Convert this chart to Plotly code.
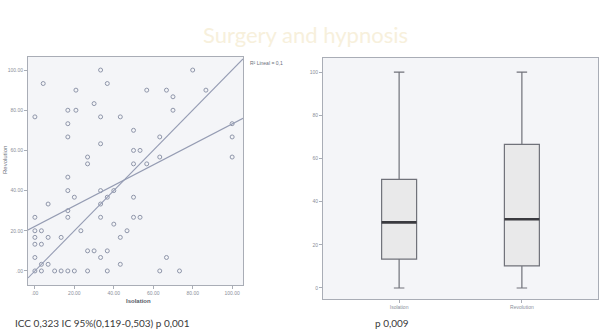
import plotly.graph_objects as go

# ---------------- data ----------------
title_text = "Surgery and hypnosis"

scatter_x = [33.3, 80, 4.2, 36.7, 20.8, 56.7, 66.7, 86.7, 70, 30,
             16.7, 20.8, 70, 0, 33.3, 43.3, 16.7, 50, 16.7, 63.3,
             100, 100, 33.3, 50, 53.3, 26.7, 26.7, 50, 56.7, 63.3,
             100, 16.7, 16.7, 33.3, 40, 20, 36.7, 50, 6.7, 33.3,
             16.7, 0, 16.7, 33.3, 50, 53.3, 40, 0, 3.3, 23.3,
             46.7, 0, 6.7, 13.3, 43.3, 0, 3.3, 26.7, 30, 36.7,
             0, 33.3, 66.7, 3.3, 6.7, 43.3, 0, 3.3, 10, 13.3,
             16.7, 20, 26.7, 36.7, 63.3, 73.3]
scatter_y = [100, 100, 93.3, 93.3, 90, 90, 90, 90, 86.7, 83.3,
             80, 80, 80, 76.7, 76.7, 76.7, 73.3, 70, 66.7, 66.7,
             73.3, 66.7, 63.3, 60, 60, 56.7, 53.3, 53.3, 53.3, 56.7,
             56.7, 46.7, 40, 40, 40, 36.7, 36.7, 36.7, 33.3, 33.3,
             30, 26.7, 26.7, 26.7, 26.7, 26.7, 23.3, 20, 20, 20,
             20, 16.7, 16.7, 16.7, 16.7, 13.3, 13.3, 10, 10, 10,
             6.7, 6.7, 6.7, 3.3, 3.3, 3.3, 0, 0, 0, 0,
             0, 0, 0, 0, 0, 0]

fit_intercept = 22.2
fit_slope = 0.51
ref_intercept = 0.0
ref_slope = 1.0

scatter_x_ticks = [0, 20, 40, 60, 80, 100]
scatter_x_ticklabels = [".00", "20.00", "40.00", "60.00", "80.00", "100.00"]
scatter_y_ticks = [0, 20, 40, 60, 80, 100]
scatter_y_ticklabels = [".00", "20.00", "40.00", "60.00", "80.00", "100.00"]

box_categories = ["Isolation", "Revolution"]
box_q1 = [13.4, 10.2]
box_median = [30.4, 31.8]
box_q3 = [50.3, 66.5]
box_low = [0, 0]
box_high = [100, 100]
box_y_ticks = [0, 20, 40, 60, 80, 100]

left_caption = "ICC 0,323 IC 95%(0,119-0,503) p 0,001"
right_caption = "p 0,009"
legend_label = "R² Lineal = 0,1"

# ---------------- figure ----------------
W, H = 599, 333
sx_range = [-3.5, 105.5]
sy_range = [-7, 106.5]
by_range = [-5.1, 106.5]
bx_range = [-0.62, 1.62]
box_width = 0.285

frame_col = "#a9adb6"
tick_col = "#8a8f9a"
bg_col = "#f4f5f8"

fig = go.Figure()

# scatter points
fig.add_trace(go.Scatter(
    x=scatter_x, y=scatter_y, mode="markers",
    marker=dict(symbol="circle-open", size=4, color="#8f96aa",
                line=dict(width=1, color="#8f96aa")),
    xaxis="x", yaxis="y", showlegend=False, hoverinfo="skip"))

# lines computed from coefficients over the axis range
fig.add_trace(go.Scatter(
    x=sx_range, y=[ref_intercept + ref_slope * v for v in sx_range],
    mode="lines", line=dict(color="#959cb3", width=1.1),
    xaxis="x", yaxis="y", showlegend=False, hoverinfo="skip"))
fig.add_trace(go.Scatter(
    x=sx_range, y=[fit_intercept + fit_slope * v for v in sx_range],
    mode="lines", line=dict(color="#959cb3", width=1.1),
    xaxis="x", yaxis="y", showlegend=False, hoverinfo="skip"))

# box plot
box_pos = list(range(len(box_categories)))
fig.add_trace(go.Box(
    x=box_pos, q1=box_q1, median=box_median, q3=box_q3,
    lowerfence=box_low, upperfence=box_high,
    width=box_width, whiskerwidth=0.3,
    fillcolor="#e9e9ea", line=dict(color="#70727a", width=1.2),
    xaxis="x2", yaxis="y2", showlegend=False, hoverinfo="skip"))

# thick median lines
for p, m in zip(box_pos, box_median):
    fig.add_trace(go.Scatter(
        x=[p - box_width / 2, p + box_width / 2], y=[m, m], mode="lines",
        line=dict(color="#3a3a3f", width=2.6),
        xaxis="x2", yaxis="y2", showlegend=False, hoverinfo="skip"))

axis_common = dict(showline=True, linecolor=frame_col, linewidth=1, mirror=True,
                   showgrid=False, zeroline=False, ticks="outside", ticklen=3,
                   tickcolor=frame_col, automargin=False,
                   tickfont=dict(size=5, color=tick_col, family="Liberation Sans"))


def note(text, px, py, size, color, family="Liberation Sans", xanchor="center", **kw):
    return dict(text=text, x=px / W, y=1 - py / H, xref="paper", yref="paper",
                xanchor=xanchor, yanchor="middle", showarrow=False,
                font=dict(size=size, color=color, family=family), **kw)


fig.update_layout(
    width=W, height=H,
    margin=dict(l=0, r=0, t=0, b=0, autoexpand=False),
    paper_bgcolor="white", plot_bgcolor=bg_col,
    xaxis=dict(domain=[28 / W, 243 / W], range=sx_range, tickvals=scatter_x_ticks,
               ticktext=scatter_x_ticklabels, anchor="y", **axis_common),
    yaxis=dict(domain=[1 - 285 / H, 1 - 57 / H], range=sy_range, tickvals=scatter_y_ticks,
               ticktext=scatter_y_ticklabels, anchor="x", **axis_common),
    xaxis2=dict(domain=[323 / W, 598 / W], range=bx_range, tickvals=box_pos,
                ticktext=box_categories, anchor="y2", **axis_common),
    yaxis2=dict(domain=[1 - 299 / H, 1 - 58 / H], range=by_range, tickvals=box_y_ticks,
                anchor="x2", **axis_common),
    annotations=[
        note(title_text, 305, 35, 22, "#f7f0dc", family="Lato"),
        note("<b>Isolation</b>", 138, 301, 6, "#555a66"),
        note("Revolution", 5, 160, 6, "#6a6f7a", textangle=-90),
        note(legend_label, 248, 63, 5, "#6a6f7a", xanchor="left"),
        note(left_caption, 13, 323, 10, "#3a3a3a", family="Lato", xanchor="left"),
        note(right_caption, 392, 323, 10, "#3a3a3a", family="Lato"),
    ],
)

fig.write_html("out.html", config={"displayModeBar": False},
               post_script="document.body.style.margin='0';document.body.style.overflow='hidden';")
